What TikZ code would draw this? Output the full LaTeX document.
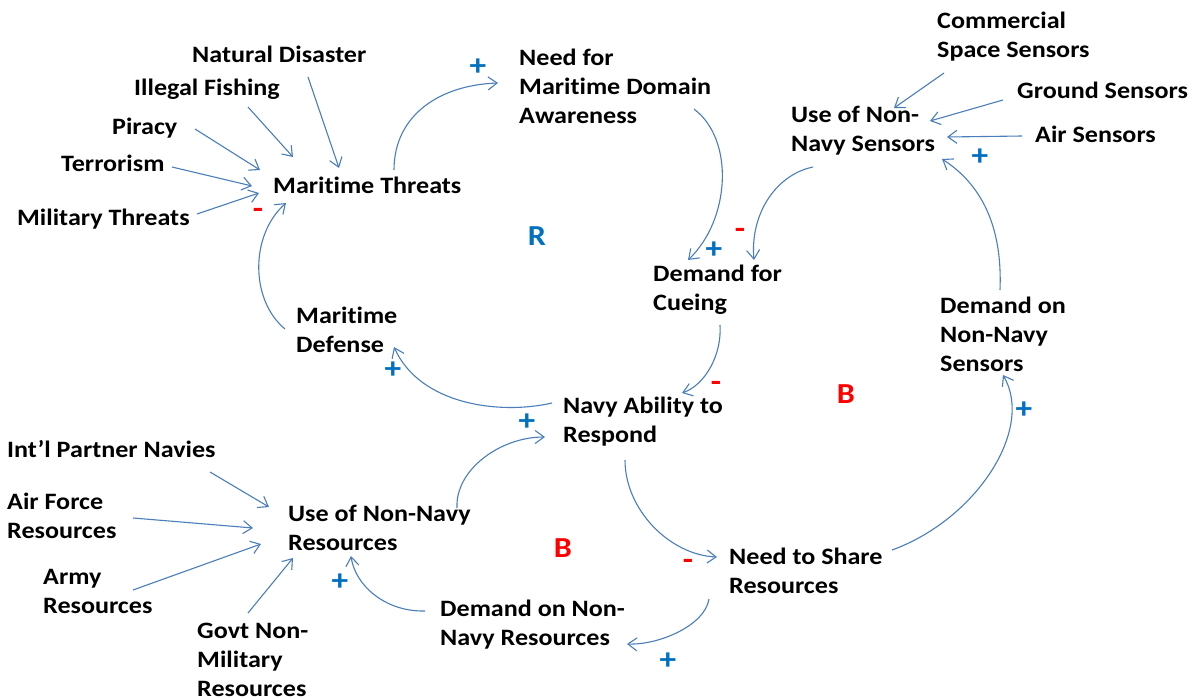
\documentclass[tikz,border=0pt]{standalone}
\usepackage{fontspec}
\setmainfont{Carlito}[Ligatures=NoCommon, FakeStretch=1.11]
\usetikzlibrary{arrows.meta,calc}
\definecolor{linkblue}{HTML}{4A7EBB}
\definecolor{plusblue}{HTML}{0070C0}
\definecolor{minusred}{HTML}{FF0000}
\begin{document}
\begin{tikzpicture}[x=1pt,y=-1pt,
  lbl/.style={anchor=north west, inner sep=0pt, align=left,
    font=\fontsize{23.5}{29}\selectfont\bfseries, text=black},
  link/.style={draw=linkblue, line width=1.1pt,
    -{Straight Barb[length=9pt,width=13pt]}},
  plussign/.style={text=plusblue, font=\fontsize{30}{30}\selectfont\bfseries, inner sep=0pt},
  minussign/.style={text=minusred, font=\fontsize{30}{30}\selectfont\bfseries, inner sep=0pt},
  looplbl/.style={font=\fontsize{29}{29}\selectfont\bfseries, inner sep=0pt}]
\useasboundingbox[fill=white] (0,0) rectangle (1198,698);

% variables
\node[lbl] (nd)   at (192,42)  {\strut Natural Disaster};
\node[lbl] (ifsh) at (134,75)  {\strut Illegal Fishing};
\node[lbl] (pir)  at (112,114) {\strut Piracy};
\node[lbl] (ter)  at (61,151)  {\strut Terrorism};
\node[lbl] (mil)  at (17,205)  {\strut Military Threats};
\node[lbl] (mt)   at (273,173) {\strut Maritime Threats};
\node[lbl] (nmda) at (519,45)  {\strut Need for\\Maritime Domain\\Awareness};
\node[lbl] (css)  at (937,8)   {\strut Commercial\\Space Sensors};
\node[lbl] (gs)   at (1017,78) {\strut Ground Sensors};
\node[lbl] (uns)  at (791,102) {\strut Use of Non-\\Navy Sensors};
\node[lbl] (as)   at (1035,122){\strut Air Sensors};
\node[lbl] (dfc)  at (653,261) {\strut Demand for\\Cueing};
\node[lbl] (dnns) at (940,293) {\strut Demand on\\Non-Navy\\Sensors};
\node[lbl] (md)   at (296,303) {\strut Maritime\\Defense};
\node[lbl] (nar)  at (563,393) {\strut Navy Ability to\\Respond};
\node[lbl] (ipn)  at (7,437)   {\strut Int’l Partner Navies};
\node[lbl] (afr)  at (7,489)   {\strut Air Force\\Resources};
\node[lbl] (unr)  at (288,501) {\strut Use of Non-Navy\\Resources};
\node[lbl] (ar)   at (43,564)  {\strut Army\\Resources};
\node[lbl] (nsr)  at (729,544) {\strut Need to Share\\Resources};
\node[lbl] (dnnr) at (440,596) {\strut Demand on Non-\\Navy Resources};
\node[lbl] (govt) at (197,618) {\strut Govt Non-\\Military\\Resources};

% loop markers
\node[looplbl, text=plusblue] (loopR)  at (537,236) {R};
\node[looplbl, text=minusred] (loopB1) at (846,394) {B};
\node[looplbl, text=minusred] (loopB2) at (563,548) {B};

% straight influences
\draw[link] ($(nd.north west)+(116,35)$)   -- ($(mt.north west)+(66,-5)$);
\draw[link] ($(ifsh.north west)+(114,32)$) -- ($(mt.north west)+(20,-16)$);
\draw[link] ($(pir.north west)+(83,15)$)   -- ($(mt.north west)+(-13,-3)$);
\draw[link] ($(ter.north west)+(111,16)$)  -- ($(mt.north west)+(-21,13)$);
\draw[link] ($(mil.north west)+(180,9)$)   -- ($(mt.north west)+(-14,20)$);
\draw[link] ($(css.north west)+(7,65)$)    -- ($(uns.north west)+(103,6)$);
\draw[link] ($(gs.north west)+(-14,22)$)   -- ($(uns.north west)+(139,19)$);
\draw[link] ($(as.north west)+(-13,14)$)   -- ($(uns.north west)+(156,35)$);
\draw[link] ($(ipn.north west)+(203,35)$)  -- ($(unr.north west)+(-19,6)$);
\draw[link] ($(afr.north west)+(126,29)$)  -- ($(unr.north west)+(-35,27)$);
\draw[link] ($(ar.north west)+(90,26)$)    -- ($(unr.north west)+(-27,43)$);
\draw[link] ($(govt.north west)+(51,-5)$)  -- ($(unr.north west)+(5,57)$);

% curved links of the loops
\draw[link] ($(md.north west)+(-11,26)$) .. controls +(-35,-29) and +(-36,32) .. ($(mt.north west)+(13,30)$);
\draw[link] ($(mt.north west)+(121,-3)$) .. controls +(0,-55) and +(-58,2) .. ($(nmda.north west)+(-21,38)$);
\draw[link] ($(nmda.north west)+(175,64)$) .. controls +(41,31) and +(42,-40) .. ($(dfc.north west)+(35,-1)$);
\draw[link] ($(uns.north west)+(22,65)$) .. controls +(-38,8) and +(-4,-45) .. ($(dfc.north west)+(101,-1)$);
\draw[link] ($(dnns.north west)+(60,-3)$) .. controls +(2,-50) and +(48,31) .. ($(uns.north west)+(151,57)$);
\draw[link] ($(dfc.north west)+(67,64)$) .. controls +(2,30) and +(23,-8) .. ($(nar.north west)+(119,0)$);
\draw[link] ($(nar.north west)+(-11,10)$) .. controls +(-52,12) and +(26,58) .. ($(md.north west)+(98,44)$);
\draw[link] ($(unr.north west)+(169,7)$) .. controls +(-2,-38) and +(-45,0) .. ($(nar.north west)+(-18,44)$);
\draw[link] ($(nar.north west)+(62,67)$) .. controls +(0,50) and +(-47,-2) .. ($(nsr.north west)+(-12,13)$);
\draw[link] ($(nsr.north west)+(163,6)$) .. controls +(83,-30) and +(32,55) .. ($(dnns.north west)+(63,82)$);
\draw[link] ($(nsr.north west)+(-20,55)$) .. controls +(-4,26) and +(33,1) .. ($(dnnr.north west)+(187,48)$);
\draw[link] ($(dnnr.north west)+(-15,15)$) .. controls +(-40,1) and +(4,29) .. ($(unr.north west)+(63,55)$);

% polarities
\node[plussign]  (s1)  at (478,67)   {+};
\node[plussign]  (s2)  at (714,250)  {+};
\node[minussign] (s3)  at (740,233)  {-};
\node[plussign]  (s4)  at (980,157)  {+};
\node[minussign] (s5)  at (258,213)  {-};
\node[plussign]  (s6)  at (393,370)  {+};
\node[plussign]  (s7)  at (527,422)  {+};
\node[minussign] (s8)  at (716,386)  {-};
\node[plussign]  (s9)  at (1024,410) {+};
\node[minussign] (s10) at (688,564)  {-};
\node[plussign]  (s11) at (668,661)  {+};
\node[plussign]  (s12) at (340,582)  {+};
\end{tikzpicture}
\end{document}
